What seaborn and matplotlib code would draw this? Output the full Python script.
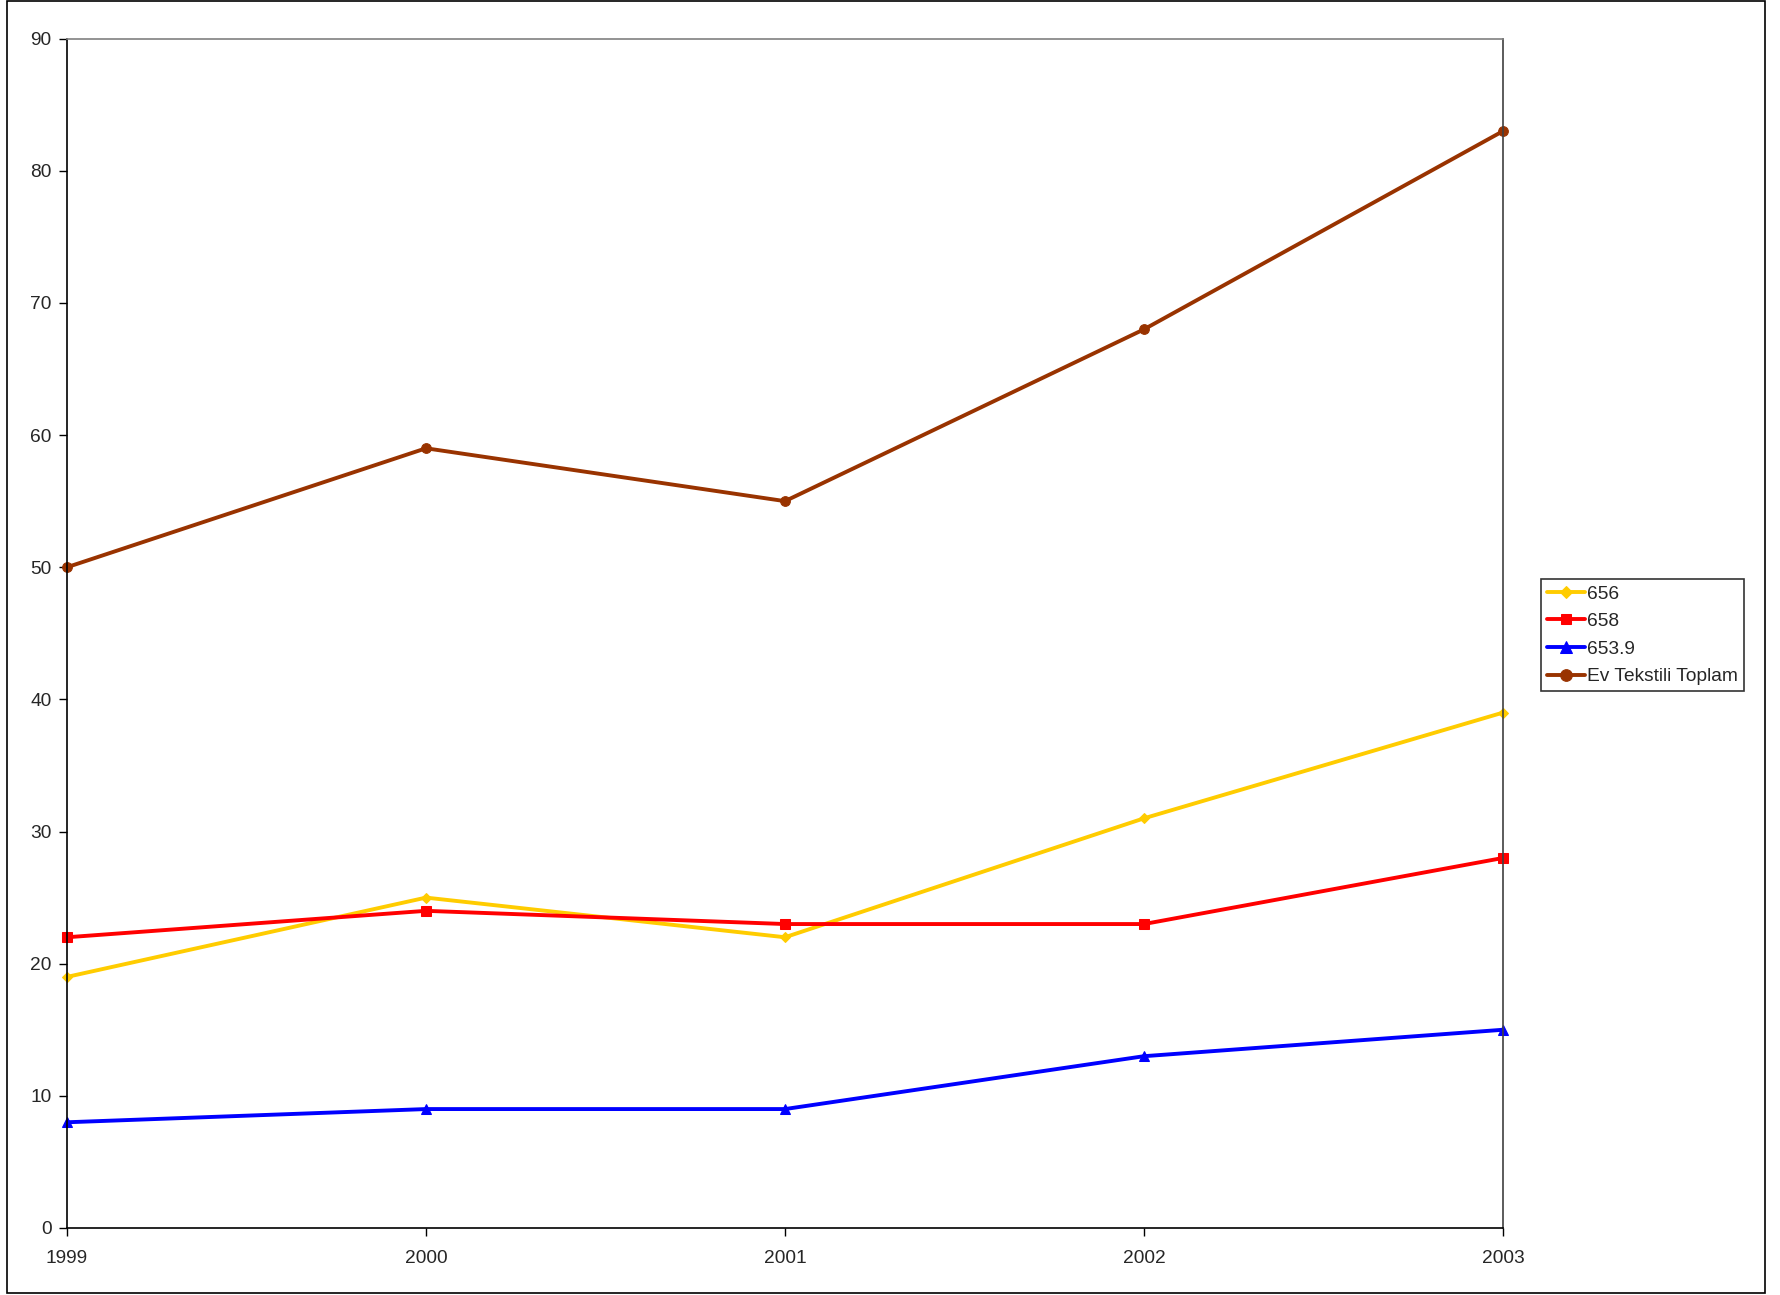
# import libraries
import matplotlib.pyplot as plt
import seaborn as sns
import pandas as pd
from matplotlib.patches import Rectangle

sns.set_style('white')
plt.rcParams['font.family'] = ['Liberation Sans', 'DejaVu Sans']

# chart data
years = ['1999', '2000', '2001', '2002', '2003']
s656 = [19, 25, 22, 31, 39]
s658 = [22, 24, 23, 23, 28]
s6539 = [8, 9, 9, 13, 15]
ev_toplam = [50, 59, 55, 68, 83]

series_names = ['656', '658', '653.9', 'Ev Tekstili Toplam']
colors = ['#FFCC00', '#FF0000', '#0000FF', '#993300']
markers = ['D', 's', '^', 'o']
msizes = [5, 6.5, 7, 7]

# long format dataframe
df = pd.DataFrame({
    'Year': years * 4,
    'Value': s656 + s658 + s6539 + ev_toplam,
    'Series': [n for n in series_names for _ in years],
})

fig = plt.figure(figsize=(17.8, 12.95), dpi=100)
ax = fig.add_axes([67 / 1780, 1 - 1228 / 1295, (1503 - 67) / 1780, (1228 - 38.6) / 1295])

for name, c, m, ms in zip(series_names, colors, markers, msizes):
    sns.lineplot(data=df[df['Series'] == name], x='Year', y='Value', ax=ax,
                 color=c, marker=m, markersize=ms, markeredgecolor=c,
                 linewidth=2.8, label=name, sort=False, clip_on=False)

ax.set_xlim(0, 4)
ax.set_ylim(0, 90)
ax.set_yticks(range(0, 91, 10))
ax.set_xlabel('')
ax.set_ylabel('')
ax.tick_params(axis='both', labelsize=13.8, length=6, width=1, color='black',
               direction='out', left=True, bottom=True, pad=5)
ax.tick_params(axis='x', pad=10)
for side in ['left', 'bottom']:
    ax.spines[side].set_color('black')
    ax.spines[side].set_linewidth(1.2)
ax.spines['top'].set_color('#808080')
ax.spines['right'].set_color('#404040')
ax.spines['top'].set_linewidth(1.2)
ax.spines['right'].set_linewidth(1.2)

leg = ax.legend(loc='upper left', bbox_to_anchor=(1541 / 1780, 1 - 579 / 1295),
                bbox_transform=fig.transFigure, fontsize=13.8, frameon=True,
                fancybox=False, edgecolor='black', borderpad=0.32,
                handlelength=1.95, handletextpad=0.15, labelspacing=0.53,
                borderaxespad=0, markerscale=1.2)
leg.get_frame().set_linewidth(1.2)

# outer chart border
fig.patches.append(Rectangle((7 / 1780, 1 - 1293 / 1295), (1765 - 7) / 1780, (1293 - 1) / 1295,
                             transform=fig.transFigure, fill=False,
                             edgecolor='black', linewidth=1.2))

fig.savefig('out.png', dpi=100)
